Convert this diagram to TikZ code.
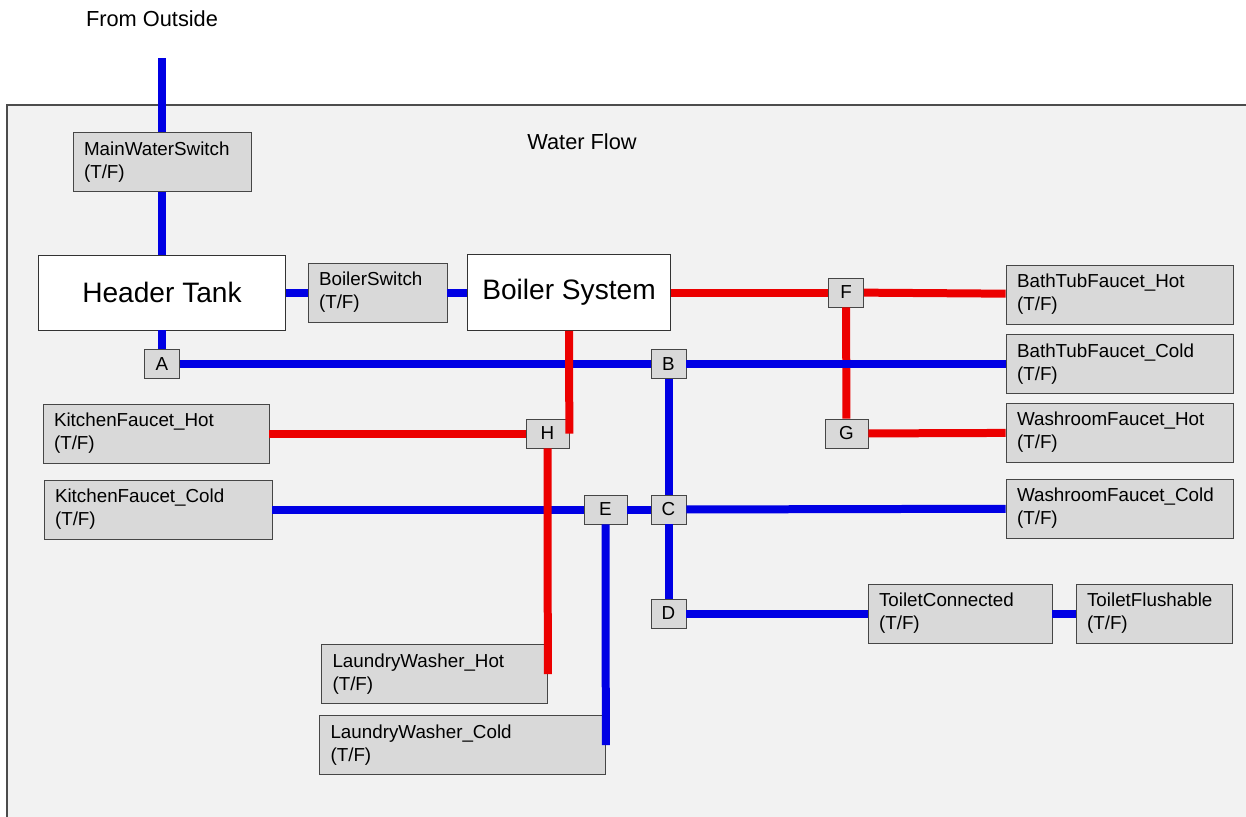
\documentclass[tikz,border=0pt]{standalone}
\usepackage{fontspec}
\setmainfont{Liberation Sans}
\usetikzlibrary{positioning, calc}

\definecolor{coldpipe}{RGB}{0,0,228}
\definecolor{hotpipe}{RGB}{236,0,0}

\begin{document}
\begin{tikzpicture}[
		x=0.02cm, y=-0.02cm,
		% cajas de interruptor (T/F)
		sw/.style = {draw=gray!55!black, fill=gray!30, align=left, inner xsep=0.22cm, inner ysep=0pt, minimum height=1.18cm, font=\fontsize{10.7}{13.1}\selectfont},
		% nodos de union
		jn/.style = {draw=gray!55!black, fill=gray!30, inner sep=0pt, minimum width=0.7cm, minimum height=0.58cm, font=\fontsize{10.7}{13.1}\selectfont},
		% cajas grandes
		bigbox/.style = {draw=black!80, fill=white, inner sep=0pt, minimum height=1.5cm, font=\fontsize{16}{19}\selectfont},
		cold/.style = {draw=coldpipe, line width=0.16cm},
		hot/.style = {draw=hotpipe, line width=0.16cm},
		lbl/.style = {font=\fontsize{12.4}{15}\selectfont}
		]
		
		\clip (0,0) rectangle (1246,816);
		\fill[white] (0,0) rectangle (1246,816);
		
		% --- MARCO ---
		\draw[draw=gray!60!black, line width=0.8pt, fill=gray!10] (7,105) rectangle (1270,840);
		\node[lbl] (outside) at (152,19) {From Outside};
		\node[lbl] (flow) at (582,142) {Water Flow};
		\coordinate (inlet) at (162,58);
		
		% --- ENTRADA Y TANQUES ---
		\node[sw, text width=3.12cm] (mainsw) at (162,162) {MainWaterSwitch\\(T/F)};
		\node[bigbox, minimum width=4.94cm] (tank) at (162,292.5) {Header Tank};
		\node[sw, text width=2.34cm] (boilersw) at (377.5,292.5) {BoilerSwitch\\(T/F)};
		\node[bigbox, minimum width=4.06cm, minimum height=1.52cm] (boiler) at (569,292.5) {Boiler System};
		
		% --- UNIONES ---
		\node[jn] (A) at (162,364) {A};
		\node[jn] (B) at (668.5,364) {B};
		\node[jn] (C) at (668.5,509.5) {C};
		\node[jn] (D) at (668.5,613.5) {D};
		\node[jn, minimum width=0.86cm] (E) at (605.5,509.5) {E};
		\node[jn] (F) at (846,292.5) {F};
		\node[jn, minimum width=0.86cm] (G) at (846.5,433.5) {G};
		\node[jn, minimum width=0.86cm] (H) at (547.5,433.5) {H};
		
		% --- GRIFOS ---
		\node[sw, text width=4.10cm] (bathhot) at (1119.5,294.5) {BathTubFaucet\_Hot\\(T/F)};
		\node[sw, text width=4.10cm] (bathcold) at (1119.5,364) {BathTubFaucet\_Cold\\(T/F)};
		\node[sw, text width=4.10cm] (washhot) at (1119.5,432.5) {WashroomFaucet\_Hot\\(T/F)};
		\node[sw, text width=4.10cm] (washcold) at (1119.5,508.5) {WashroomFaucet\_Cold\\(T/F)};
		\node[sw, text width=4.08cm] (kithot) at (156,433.5) {KitchenFaucet\_Hot\\(T/F)};
		\node[sw, text width=4.12cm] (kitcold) at (158,509.5) {KitchenFaucet\_Cold\\(T/F)};
		\node[sw, text width=4.08cm] (lwhot) at (434.5,674) {LaundryWasher\_Hot\\(T/F)};
		\node[sw, text width=5.28cm] (lwcold) at (462.5,745) {LaundryWasher\_Cold\\(T/F)};
		\node[sw, text width=3.24cm] (toiletc) at (960,613.5) {ToiletConnected\\(T/F)};
		\node[sw, text width=2.68cm] (toiletf) at (1154,613.5) {ToiletFlushable\\(T/F)};
		
		% --- TUBERIAS ---
		\draw[hot] (F) -- (G); % va por debajo de la fria
		
		\draw[cold] (inlet) -- (mainsw.north);
		\draw[cold] (mainsw) -- (tank);
		\draw[cold] (tank) -- (boilersw);
		\draw[cold] (boilersw) -- (boiler);
		\draw[cold] (tank) -- (A);
		\draw[cold] (A) -- (B);
		\draw[cold] (B) -- (bathcold);
		\draw[cold] (B) -- (C);
		\draw[cold] (kitcold) -- (E);
		\draw[cold] (E) -- (C);
		\draw[cold] (C) -- (washcold);
		\draw[cold] (C) -- (D);
		\draw[cold] (D) -- (toiletc);
		\draw[cold] (toiletc) -- (toiletf);
		\draw[cold] (E.south) -- (lwcold.east);
		
		\draw[hot] (boiler) -- (F);
		\draw[hot] (F) -- (bathhot);
		\draw[hot] (G) -- (washhot);
		\draw[hot] (boiler.south) -- (H.east);
		\draw[hot] (kithot) -- (H);
		\draw[hot] (H.south) -- (lwhot.east);
		
	\end{tikzpicture}
\end{document}
